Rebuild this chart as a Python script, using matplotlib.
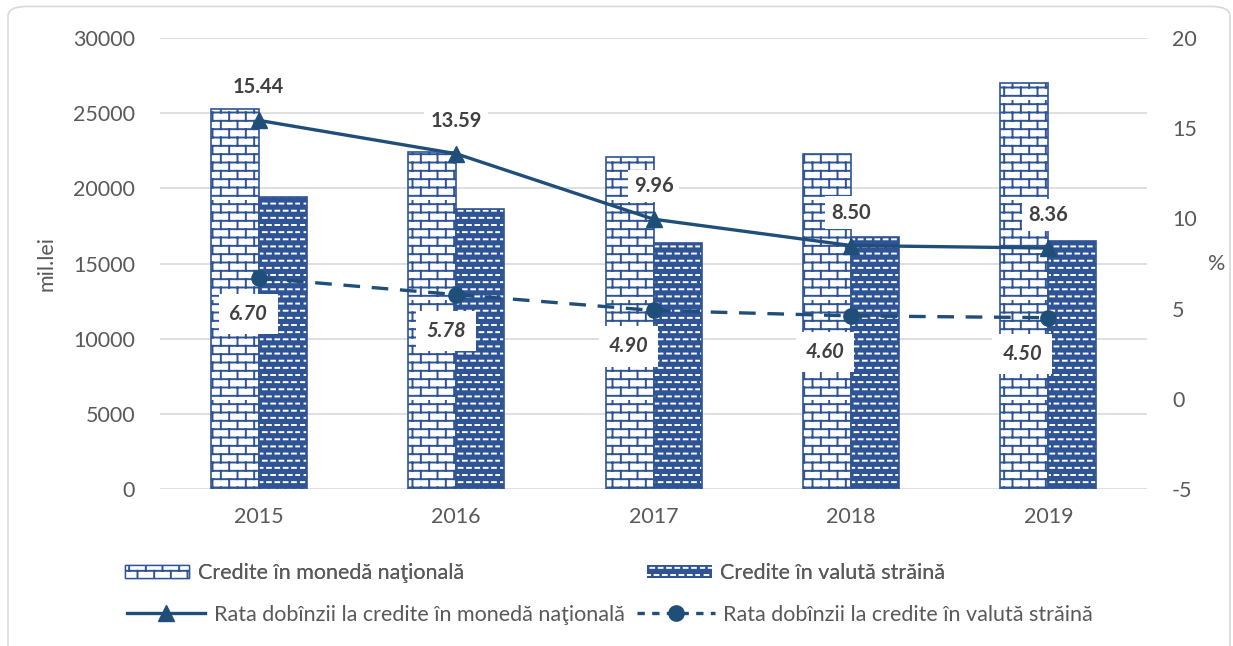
import warnings
import matplotlib
matplotlib.use("Agg")
import matplotlib.pyplot as plt
import matplotlib.hatch as mhatch
from matplotlib.path import Path
from matplotlib.patches import FancyBboxPatch, Patch
from matplotlib.lines import Line2D
import numpy as np

warnings.filterwarnings("ignore")

years = ["2015", "2016", "2017", "2018", "2019"]
credite_nat = [25300, 22400, 22100, 22300, 27000]
credite_val = [19400, 18600, 16400, 16750, 16500]
rata_nat = [15.44, 13.59, 9.96, 8.50, 8.36]
rata_val = [6.70, 5.78, 4.90, 4.60, 4.50]

BLUE = "#2F5496"
LINE = "#1F4E79"
GREY = "#595959"
LBL = "#404040"


# brick pattern ('b') and small dashes pattern ('d') as extra hatches
class BrickHatch(mhatch.HatchPatternBase):
    def __init__(self, hatch, density):
        self.rows, self.cols = 12, 6
        self.num_vertices = (self.rows * 2 + self.rows * self.cols * 2) if "b" in hatch else 0

    def set_vertices_and_codes(self, vertices, codes):
        k = 0
        for i in range(self.rows):
            y0 = (i + 0.5) / self.rows
            y1 = (i + 1.5) / self.rows
            vertices[k] = (0, y0)
            vertices[k + 1] = (1, y0)
            codes[k], codes[k + 1] = Path.MOVETO, Path.LINETO
            k += 2
            shift = 0.25 + 0.5 * (i % 2)
            for j in range(self.cols):
                xx = (j + shift) / self.cols
                vertices[k] = (xx, y0)
                vertices[k + 1] = (xx, min(y1, 1.0))
                codes[k], codes[k + 1] = Path.MOVETO, Path.LINETO
                k += 2


class DashHatch(mhatch.HatchPatternBase):
    def __init__(self, hatch, density):
        self.rows, self.cols = 14, 12
        self.num_vertices = self.rows * self.cols * 2 if "d" in hatch else 0

    def set_vertices_and_codes(self, vertices, codes):
        k = 0
        for i in range(self.rows):
            y = (i + 0.5) / self.rows
            shift = 0.5 * (i % 2)
            for j in range(self.cols):
                vertices[k] = ((j + shift + 0.05) / self.cols, y)
                vertices[k + 1] = ((j + shift + 0.5) / self.cols, y)
                codes[k], codes[k + 1] = Path.MOVETO, Path.LINETO
                k += 2


mhatch._hatch_types.append(BrickHatch)
mhatch._hatch_types.append(DashHatch)

plt.rcParams["font.family"] = ["Lato", "DejaVu Sans"]
plt.rcParams["hatch.linewidth"] = 1.4
plt.rcParams["axes.unicode_minus"] = False

FS = 15.5

fig = plt.figure(figsize=(12.33, 6.46), dpi=100)
ax = fig.add_axes([0.1298, 0.243, 0.8005, 0.698])
ax2 = ax.twinx()

x = np.arange(len(years))
w = 0.243

ax.bar(x - w / 2, credite_nat, w, color="white", edgecolor=BLUE,
       hatch="b", linewidth=1.2, zorder=2)
ax.bar(x + w / 2, credite_val, w, color=BLUE, edgecolor="white",
       hatch="d", linewidth=0, zorder=2)
ax.bar(x + w / 2, credite_val, w, fill=False, edgecolor=BLUE,
       linewidth=1.2, zorder=3)

ax.set_ylim(0, 30000)
ax.set_yticks(np.arange(0, 30001, 5000))
ax.set_xlim(-0.5, 4.5)
ax.set_xticks(x)
ax.set_xticklabels(years)
ax.grid(axis="y", color="#D9D9D9", linewidth=1.2, zorder=0)
ax.set_axisbelow(True)
ax.tick_params(length=0, labelsize=FS, colors=GREY, pad=13)
ax.tick_params(axis="y", pad=18)
ax.set_ylabel("mil.lei", fontsize=FS, color=GREY, labelpad=12)

ax2.plot(x, rata_nat, color=LINE, linewidth=2.4, marker="^", markersize=12,
         zorder=5)
ax2.plot(x, rata_val, color=LINE, linewidth=2.4, linestyle=(0, (5, 3.5)),
         marker="o", markersize=11, zorder=5)
ax2.set_ylim(-5, 20)
ax2.set_yticks(np.arange(-5, 21, 5))
ax2.tick_params(length=0, labelsize=FS, colors=GREY, pad=18)
ax2.set_ylabel("%", fontsize=FS, color=GREY, rotation=0, labelpad=14,
               va="center")

for s in list(ax.spines.values()) + list(ax2.spines.values()):
    s.set_visible(False)

box = dict(boxstyle="square,pad=0.3", facecolor="white", edgecolor="none")
for i, v in enumerate(rata_nat):
    ax2.annotate(f"{v:.2f}", (x[i], v), xytext=(0, 33), textcoords="offset pixels",
                 ha="center", va="center", fontsize=14.5, fontweight="bold",
                 color=LBL, bbox=box, zorder=6)
dx = [-10, -10, -25, -26, -26]
for i, v in enumerate(rata_val):
    ax2.annotate(f"{v:.2f}", (x[i], v), xytext=(dx[i], -36), textcoords="offset pixels",
                 ha="center", va="center", fontsize=14.5, fontweight="bold",
                 fontstyle="italic", color=LBL, bbox=dict(boxstyle="square,pad=0.5",
                 facecolor="white", edgecolor="none"), zorder=6)

h1 = Patch(facecolor="white", edgecolor=BLUE, hatch="b", linewidth=1.0)
h2 = Patch(facecolor=BLUE, edgecolor="white", hatch="d", linewidth=0)
leg1 = fig.legend([h1, h2], ["Credite în monedă naţională", "Credite în valută străină"],
                  loc="center", bbox_to_anchor=(0.434, 0.113), ncol=2, frameon=False,
                  fontsize=FS, handlelength=3.0, handleheight=0.6, handletextpad=0.4,
                  columnspacing=8.5, labelcolor=GREY)
l1 = Line2D([], [], color=LINE, linewidth=2.4, marker="^", markersize=12)
l2 = Line2D([], [], color=LINE, linewidth=2.4, linestyle=(0, (2.2, 2.2)),
            marker="o", markersize=11)
fig.legend([l1, l2], ["Rata dobînzii la credite în monedă naţională",
                      "Rata dobînzii la credite în valută străină"],
           loc="center", bbox_to_anchor=(0.495, 0.048), ncol=2, frameon=False,
           fontsize=FS, handlelength=3.6, handletextpad=0.4, columnspacing=0.6,
           labelcolor=GREY)
fig.add_artist(leg1)

frame = FancyBboxPatch((8 / 1233, -0.05), 1222 / 1233, 1.04,
                       boxstyle="round,pad=0,rounding_size=0.015",
                       transform=fig.transFigure, facecolor="none",
                       edgecolor="#D9D9D9", linewidth=1.2)
fig.add_artist(frame)

fig.savefig("out.png", dpi=100)
